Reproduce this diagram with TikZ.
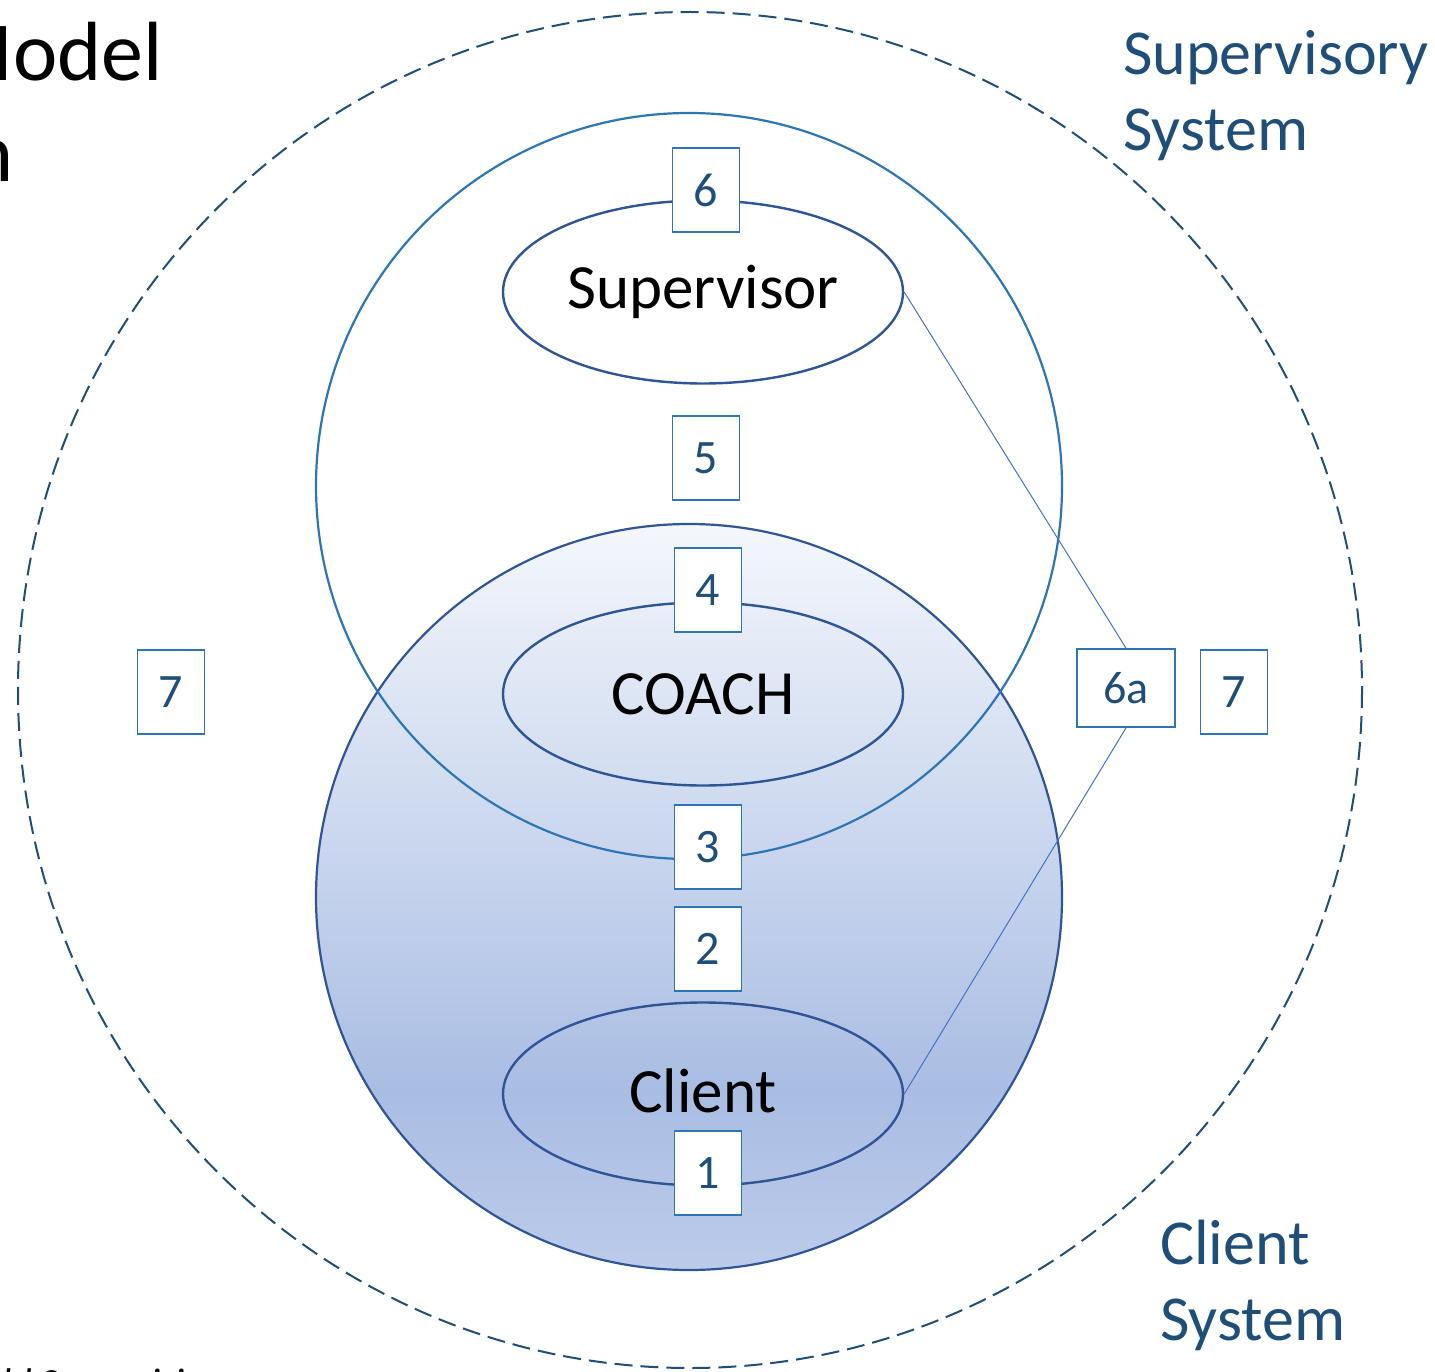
\documentclass[tikz,border=0pt]{standalone}
\usepackage{fontspec}
\setmainfont{Carlito}
\usetikzlibrary{shapes.geometric}
\definecolor{dkblue}{HTML}{1F4E79}
\definecolor{midblue}{HTML}{2E75B6}
\definecolor{ellblue}{HTML}{2F5597}
\definecolor{lnblue}{HTML}{4472C4}
\definecolor{gA}{HTML}{BCCBEA}
\definecolor{gB}{HTML}{A9BDE3}
\definecolor{gC}{HTML}{F4F7FC}
\pgfdeclareverticalshading{clientshade}{100bp}{color(0bp)=(gA); color(25bp)=(gA); color(37bp)=(gB); color(75bp)=(gC); color(100bp)=(gC)}
\tikzset{
  numbox/.style={draw=midblue, line width=1.8pt, fill=white, minimum width=67pt, minimum height=84pt, inner sep=0pt, text=dkblue, font=\fontsize{48}{56}\selectfont},
  oval/.style={draw=ellblue, line width=2.4pt, ellipse, minimum width=400pt, minimum height=183pt, inner sep=0pt, font=\fontsize{63}{72}\selectfont},
  syslabel/.style={anchor=base west, inner sep=0pt, text=dkblue, font=\fontsize{64}{76}\selectfont},
  link/.style={draw=lnblue, line width=1pt}
}
\begin{document}
\begin{tikzpicture}[x=1pt,y=-1pt]
\useasboundingbox (0,0) rectangle (1435,1372);
\clip (0,0) rectangle (1435,1372);
\fill[white] (0,0) rectangle (1435,1372);
% outer dashed system circle
\draw[dkblue, line width=2pt, dash pattern=on 18pt off 8pt] (690,690) ellipse [x radius=672, y radius=678];
% client circle with gradient
\shade[shading=clientshade] (689,897) circle [radius=373];
\draw[ellblue, line width=2.2pt] (689,897) circle [radius=373];
% supervisory circle
\draw[midblue, line width=2.2pt] (689,486) circle [radius=373];
% ovals
\node[oval, fill=white] (sup) at (703,292) {\raisebox{1pt}{Supervisor}};
\node[oval] (coach) at (703,694) {COACH};
\node[oval] (cli) at (703,1094) {\raisebox{6pt}{Client}};
% connectors
\node[numbox, minimum width=98pt, minimum height=78pt, font=\fontsize{46}{54}\selectfont] (b6a) at (1126,688) {6a};
\draw[link] (sup.east) -- (b6a.north);
\draw[link] (b6a.south) -- (cli.east);
% number boxes
\node[numbox] (b6) at (706,190) {6};
\node[numbox] (b5) at (706,458) {5};
\node[numbox] (b4) at (708,590) {4};
\node[numbox] (b3) at (708,847) {3};
\node[numbox] (b2) at (708,949) {2};
\node[numbox] (b1) at (708,1173) {1};
\node[numbox] (b7l) at (171,692) {7};
\node[numbox] (b7r) at (1234,692) {7};
% system labels
\node[syslabel] (sv1) at (1123,75) {Supervisory};
\node[syslabel] (sv2) at (1123,151) {System};
\node[syslabel] (cs1) at (1160,1264) {Client};
\node[syslabel] (cs2) at (1160,1340) {System};
% clipped title fragments
\node[anchor=base east, inner sep=0pt, font=\fontsize{84}{96}\selectfont] (t1) at (163,81) {Model};
\node[anchor=base east, inner sep=0pt, font=\fontsize{84}{96}\selectfont] (t2) at (14,182) {Supervision};
\node[anchor=base west, inner sep=0pt, font=\fontsize{40}{48}\selectfont\itshape] (t3) at (2,1396) {ld Supervision};
\end{tikzpicture}
\end{document}
